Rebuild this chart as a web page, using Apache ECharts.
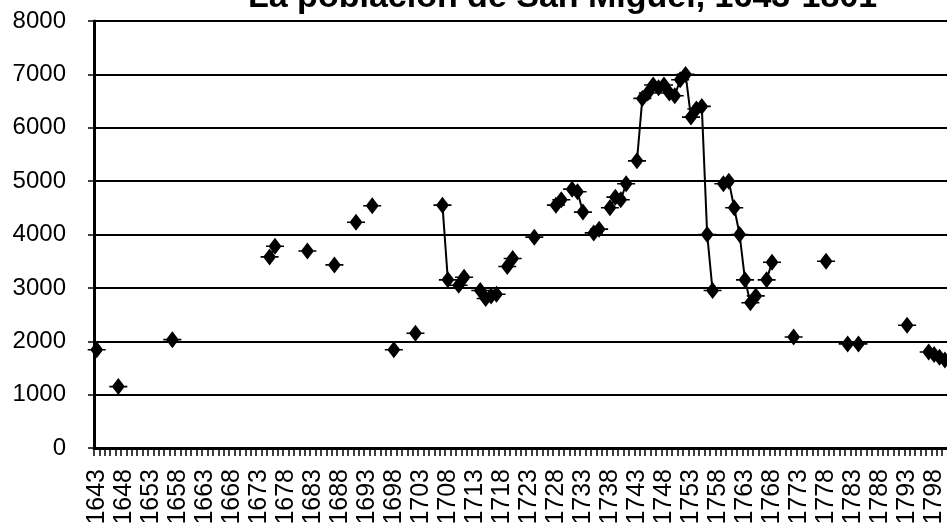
<!DOCTYPE html>
<html>
<head>
<meta charset="utf-8">
<script src="https://cdn.jsdelivr.net/npm/echarts@6/dist/echarts.min.js"></script>
<style>
  html, body { margin: 0; padding: 0; background: #fff; }
  #chart { width: 947px; height: 523px; }
</style>
</head>
<body>
<div id="chart"></div>
<script>
'use strict';
// años con dato de población (los demás quedan vacíos)
var firstYear = 1643, lastYear = 1801;
var censusYears = [1643, 1647, 1657, 1675, 1676, 1682, 1687, 1691, 1694, 1698, 1702,
  1707, 1708, 1710, 1711, 1714, 1715, 1716, 1717, 1719, 1720, 1724, 1728, 1729,
  1731, 1732, 1733, 1735, 1736, 1738, 1739, 1740, 1741, 1743, 1744, 1745, 1746,
  1747, 1748, 1749, 1750, 1751, 1752, 1753, 1754, 1755, 1756, 1757, 1759, 1760,
  1761, 1762, 1763, 1764, 1765, 1767, 1768, 1772, 1778, 1782, 1784, 1793, 1797,
  1798, 1799, 1800];
var population = [1840, 1150, 2030, 3580, 3780, 3690, 3430, 4230, 4540, 1840, 2150,
  4550, 3150, 3050, 3200, 2950, 2800, 2850, 2880, 3400, 3550, 3950, 4550, 4650,
  4850, 4800, 4420, 4030, 4100, 4500, 4700, 4650, 4950, 5380, 6550, 6650, 6800,
  6750, 6800, 6650, 6600, 6900, 7000, 6200, 6350, 6400, 4000, 2950, 4950, 5000,
  4500, 4000, 3150, 2720, 2850, 3150, 3480, 2080, 3500, 1950, 1950, 2300, 1800,
  1750, 1700, 1650];

var yearLabels = [];
var popData = [];
for (var y = firstYear; y <= lastYear; y++) {
  yearLabels.push(String(y));
  var idx = censusYears.indexOf(y);
  popData.push(idx >= 0 ? population[idx] : null);
}

// rombo con una rayita horizontal, como el marcador de Excel
var markerPath = 'path://M9 0 L15.5 8.5 L9 17 L2.5 8.5 Z M0 7.7 L18 7.7 L18 9.3 L0 9.3 Z';

var chart = echarts.init(document.getElementById('chart'));
var FONT = 'Liberation Sans, Arial, sans-serif';

var option = {
  animation: false,
  backgroundColor: '#fff',
  title: {
    text: 'La población de San Miguel, 1643-1801',
    left: 243,
    top: -24,
    textStyle: {
      fontFamily: FONT,
      fontSize: 34,
      fontWeight: 'bold',
      color: '#000'
    }
  },
  grid: {
    left: 94,
    width: 859,
    top: 21,
    bottom: 75,
    containLabel: false,
    outerBoundsMode: 'none'
  },
  xAxis: {
    type: 'category',
    data: yearLabels,
    boundaryGap: true,
    axisLine: { lineStyle: { color: '#000', width: 3 } },
    axisTick: {
      show: true,
      interval: 0,
      length: 8,
      lineStyle: { color: '#000', width: 1.5 }
    },
    axisLabel: {
      interval: 4,
      rotate: 90,
      margin: 21,
      color: '#000',
      fontFamily: FONT,
      fontSize: 25
    },
    splitLine: { show: false }
  },
  yAxis: {
    type: 'value',
    min: 0,
    max: 8000,
    interval: 1000,
    axisLine: { show: true, lineStyle: { color: '#000', width: 3 } },
    axisTick: { show: true, length: 6, lineStyle: { color: '#000', width: 1.5 } },
    axisLabel: {
      margin: 28,
      color: '#000',
      fontFamily: FONT,
      fontSize: 24,
      formatter: function (v) { return String(v); }
    },
    splitLine: { show: true, lineStyle: { color: '#000', width: 2 } }
  },
  series: [{
    name: 'Población',
    type: 'line',
    data: popData,
    connectNulls: false,
    showAllSymbol: true,
    symbol: markerPath,
    symbolSize: [18, 17],
    itemStyle: { color: '#000' },
    lineStyle: { color: '#000', width: 2 }
  }]
};

chart.setOption(option);
</script>
</body>
</html>
